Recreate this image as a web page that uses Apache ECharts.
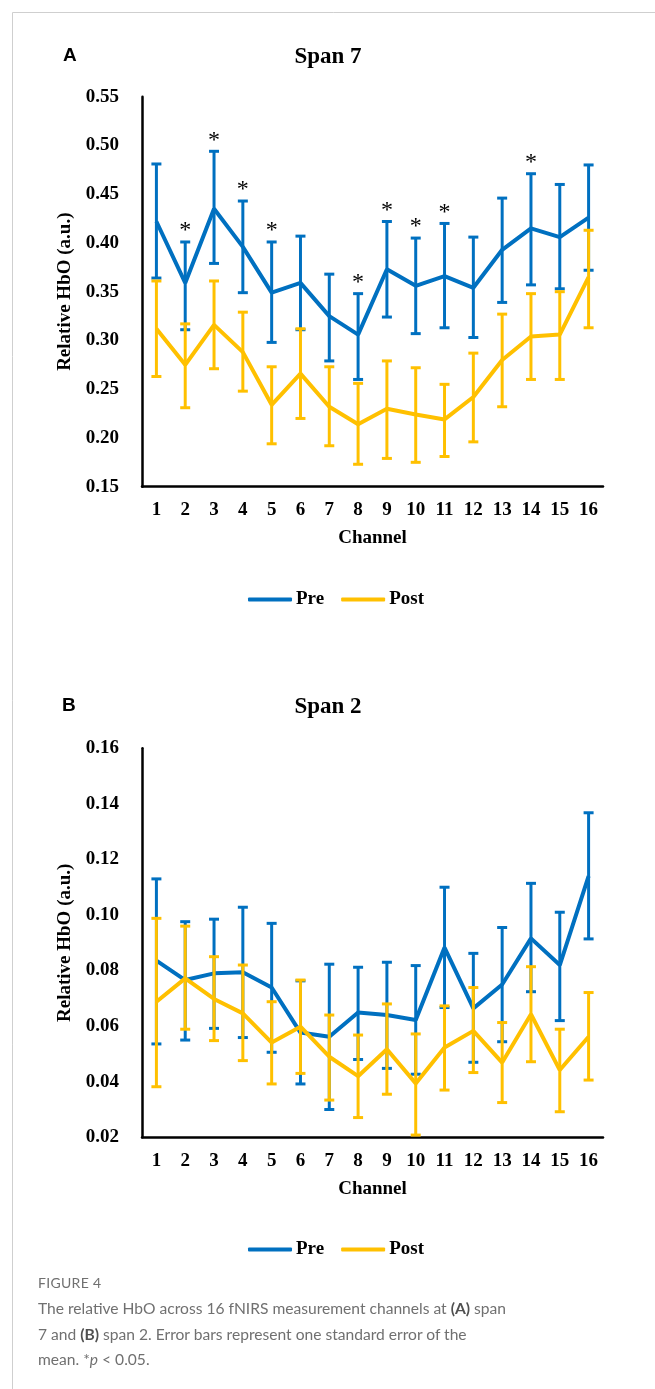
<!DOCTYPE html>
<html>
<head>
<meta charset="utf-8">
<script src="https://cdn.jsdelivr.net/npm/echarts@6/dist/echarts.min.js"></script>
<style>
  html, body { margin: 0; padding: 0; background: #fff; }
  #chart { position: absolute; left: 0; top: 0; width: 655px; height: 1389px; }
  #caption { position: absolute; left: 38px; top: 1270px; width: 600px; font-family: Lato, "Open Sans", sans-serif; color: #707070; }
  #caption .fig { font-size: 14px; letter-spacing: 0.3px; line-height: 26px; }
  #caption .txt { font-size: 15.6px; line-height: 25.5px; }
  #caption b { color: #505050; }
</style>
</head>
<body>
<div id="chart"></div>
<div id="caption">
  <div class="fig">FIGURE 4</div>
  <div class="txt">The relative HbO across 16 fNIRS measurement channels at <b>(A)</b> span<br>7 and <b>(B)</b> span 2. Error bars represent one standard error of the<br>mean. *<i>p</i> &lt; 0.05.</div>
</div>
<script>
// channels on the x axis
var channels = ['1','2','3','4','5','6','7','8','9','10','11','12','13','14','15','16'];

// panel A - span 7
var preA      = [0.422,0.359,0.435,0.396,0.349,0.359,0.325,0.306,0.373,0.356,0.366,0.354,0.393,0.415,0.406,0.426];
var preAHigh  = [0.481,0.401,0.494,0.443,0.401,0.407,0.368,0.348,0.422,0.405,0.420,0.406,0.446,0.471,0.460,0.480];
var preALow   = [0.364,0.311,0.379,0.349,0.298,0.311,0.279,0.260,0.324,0.307,0.313,0.303,0.339,0.357,0.353,0.372];
var postA     = [0.312,0.275,0.316,0.288,0.234,0.266,0.232,0.214,0.230,0.224,0.219,0.242,0.280,0.304,0.306,0.365];
var postAHigh = [0.361,0.317,0.361,0.329,0.273,0.312,0.273,0.256,0.279,0.272,0.255,0.287,0.327,0.348,0.350,0.413];
var postALow  = [0.263,0.231,0.271,0.248,0.194,0.220,0.192,0.173,0.179,0.175,0.181,0.196,0.232,0.260,0.260,0.313];
var sigA      = [2,3,4,5,8,9,10,11,14];

// panel B - span 2
var preB      = [0.0836,0.0766,0.0790,0.0794,0.0739,0.0577,0.0562,0.0649,0.0640,0.0622,0.0883,0.0664,0.0750,0.0916,0.0820,0.1140];
var preBHigh  = [0.1130,0.0976,0.0985,0.1028,0.0970,0.0763,0.0823,0.0812,0.0830,0.0818,0.1100,0.0862,0.0955,0.1114,0.1010,0.1368];
var preBLow   = [0.0536,0.0550,0.0592,0.0559,0.0506,0.0392,0.0300,0.0480,0.0448,0.0427,0.0667,0.0470,0.0544,0.0724,0.0620,0.0914];
var postB     = [0.0688,0.0772,0.0698,0.0646,0.0541,0.0598,0.0490,0.0420,0.0517,0.0394,0.0523,0.0583,0.0469,0.0643,0.0442,0.0562];
var postBHigh = [0.0988,0.0960,0.0850,0.0820,0.0688,0.0766,0.0640,0.0568,0.0680,0.0572,0.0673,0.0739,0.0613,0.0814,0.0589,0.0721];
var postBLow  = [0.0382,0.0589,0.0548,0.0476,0.0392,0.0430,0.0334,0.0271,0.0355,0.0208,0.0370,0.0433,0.0325,0.0472,0.0292,0.0406];

var BLUE = '#0070C0', YELLOW = '#FFC000';
var SERIF = '"Liberation Serif", "Times New Roman", serif';

function errData(low, high) {
  return low.map(function (v, i) { return [i, v, high[i]]; });
}
function sigData(list, high) {
  return list.map(function (c) { return [c - 1, high[c - 1]]; });
}

function errorBars(color) {
  return function (params, api) {
    var top = api.coord([api.value(0), api.value(2)]);
    var bot = api.coord([api.value(0), api.value(1)]);
    var w = 5;
    var st = { stroke: color, lineWidth: 3 };
    return {
      type: 'group',
      children: [
        { type: 'line', shape: { x1: top[0], y1: top[1], x2: bot[0], y2: bot[1] }, style: st },
        { type: 'line', shape: { x1: top[0] - w, y1: top[1], x2: top[0] + w, y2: top[1] }, style: st },
        { type: 'line', shape: { x1: bot[0] - w, y1: bot[1], x2: bot[0] + w, y2: bot[1] }, style: st }
      ]
    };
  };
}

function stars(params, api) {
  var p = api.coord([api.value(0), api.value(1)]);
  return {
    type: 'text',
    style: { text: '*', x: p[0], y: p[1] + 1, align: 'center', verticalAlign: 'bottom',
             font: '24px ' + SERIF, fill: '#000' }
  };
}

function xAxis(idx) {
  return {
    type: 'category', gridIndex: idx, data: channels,
    name: 'Channel', nameLocation: 'middle', nameGap: 42,
    nameTextStyle: { fontFamily: SERIF, fontWeight: 'bold', fontSize: 19, color: '#000' },
    axisLine: { lineStyle: { color: '#000', width: 2.5 } },
    axisTick: { show: false },
    axisLabel: { margin: 14, fontFamily: SERIF, fontWeight: 'bold', fontSize: 19, color: '#000', interval: 0 }
  };
}
function yAxis(idx, min, max, step) {
  return {
    type: 'value', gridIndex: idx, min: min, max: max, interval: step,
    name: 'Relative HbO (a.u.)', nameLocation: 'middle', nameGap: 64,
    nameTextStyle: { fontFamily: SERIF, fontWeight: 'bold', fontSize: 19, color: '#000' },
    axisLine: { show: true, lineStyle: { color: '#000', width: 2.5 } },
    axisTick: { show: false },
    splitLine: { show: false },
    axisLabel: { margin: 23, fontFamily: SERIF, fontWeight: 'bold', fontSize: 19, color: '#000',
                 formatter: function (v) { return v.toFixed(2); } }
  };
}
function legend(top) {
  return {
    left: 243, top: top, itemWidth: 44, itemHeight: 4, itemGap: 17,
    icon: 'roundRect',
    textStyle: { fontFamily: SERIF, fontWeight: 'bold', fontSize: 19, color: '#000', padding: [0, 0, 0, -1] },
    data: ['Pre', 'Post']
  };
}
function lineSeries(name, color, xi, data, z) {
  return { name: name, type: 'line', xAxisIndex: xi, yAxisIndex: xi, data: data, symbol: 'none',
           color: color, lineStyle: { color: color, width: 4 }, z: z, animation: false };
}
function errSeries(name, color, xi, data, z) {
  return { name: name, type: 'custom', xAxisIndex: xi, yAxisIndex: xi, data: data, color: color,
           renderItem: errorBars(color), encode: { x: 0, y: [1, 2] }, z: z, animation: false };
}

var option = {
  backgroundColor: '#fff',
  animation: false,
  grid: [
    { left: 142, top: 96.7, width: 461, height: 390 },
    { left: 142, top: 748.3, width: 461, height: 389 }
  ],
  xAxis: [xAxis(0), xAxis(1)],
  yAxis: [yAxis(0, 0.15, 0.55, 0.05), yAxis(1, 0.02, 0.16, 0.02)],
  legend: [legend(585), legend(1235)],
  graphic: [
    { type: 'line', shape: { x1: 12.5, y1: 12.5, x2: 655, y2: 12.5 }, style: { stroke: '#cfcfcf', lineWidth: 1 } },
    { type: 'line', shape: { x1: 12.5, y1: 12.5, x2: 12.5, y2: 1389 }, style: { stroke: '#cfcfcf', lineWidth: 1 } },
    { type: 'text', left: 63, top: 46, style: { text: 'A', font: 'bold 19px "Liberation Sans", Arial, sans-serif', fill: '#000' } },
    { type: 'text', left: 62, top: 696, style: { text: 'B', font: 'bold 19px "Liberation Sans", Arial, sans-serif', fill: '#000' } },
    { type: 'text', x: 328, y: 57, style: { text: 'Span 7', align: 'center', verticalAlign: 'middle', font: 'bold 23px ' + SERIF, fill: '#000' } },
    { type: 'text', x: 328, y: 707, style: { text: 'Span 2', align: 'center', verticalAlign: 'middle', font: 'bold 23px ' + SERIF, fill: '#000' } }
  ],
  series: [
    lineSeries('Pre', BLUE, 0, preA, 2),
    errSeries('Pre', BLUE, 0, errData(preALow, preAHigh), 3),
    lineSeries('Post', YELLOW, 0, postA, 4),
    errSeries('Post', YELLOW, 0, errData(postALow, postAHigh), 5),
    { type: 'custom', xAxisIndex: 0, yAxisIndex: 0, data: sigData(sigA, preAHigh), renderItem: stars,
      encode: { x: 0, y: 1 }, z: 6, silent: true },

    lineSeries('Pre', BLUE, 1, preB, 2),
    errSeries('Pre', BLUE, 1, errData(preBLow, preBHigh), 3),
    lineSeries('Post', YELLOW, 1, postB, 4),
    errSeries('Post', YELLOW, 1, errData(postBLow, postBHigh), 5)
  ]
};

var mychart = echarts.init(document.getElementById('chart'));
mychart.setOption(option);
</script>
</body>
</html>
